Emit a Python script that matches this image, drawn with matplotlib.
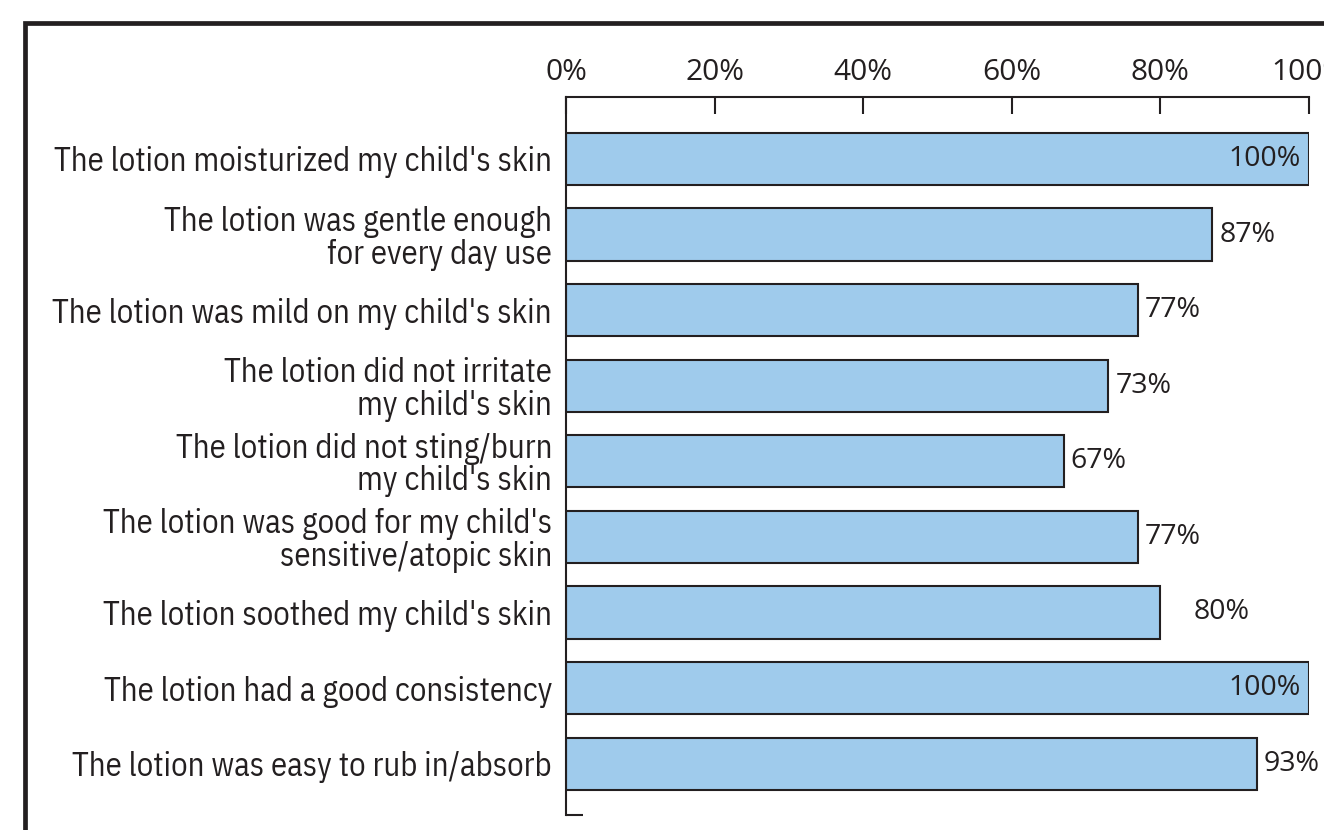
import matplotlib
matplotlib.use("Agg")
import matplotlib.pyplot as plt
from matplotlib.patches import Rectangle

categories = [
    "The lotion moisturized my child's skin",
    "The lotion was gentle enough\nfor every day use",
    "The lotion was mild on my child's skin",
    "The lotion did not irritate\nmy child's skin",
    "The lotion did not sting/burn\nmy child's skin",
    "The lotion was good for my child's\nsensitive/atopic skin",
    "The lotion soothed my child's skin",
    "The lotion had a good consistency",
    "The lotion was easy to rub in/absorb",
]
values = [100, 87, 77, 73, 67, 77, 80, 100, 93]
xticks = [0, 20, 40, 60, 80, 100]
xticklabels = ["0%", "20%", "40%", "60%", "80%", "100%"]

TXT = "#231f20"
BAR = "#9fcbec"
cat_font = ["IBM Plex Sans Condensed", "DejaVu Sans"]
num_font = ["Open Sans", "DejaVu Sans"]

fig = plt.figure(figsize=(13.24, 8.30), dpi=100)
fig.patch.set_facecolor("white")

# outer frame (extends beyond right and bottom edges)
fig.add_artist(Rectangle((25 / 1324, -0.2), 1.5, 1.2 - 23.5 / 830,
                         transform=fig.transFigure, fill=False,
                         edgecolor=TXT, linewidth=3.4, zorder=0))

ax = fig.add_axes([566 / 1324, 1 - 815 / 830, (1309 - 566) / 1324, (815 - 97) / 830])
ypos = list(range(len(categories)))
ax.barh(ypos, values, height=0.69, color=BAR, edgecolor=TXT, linewidth=1.5, zorder=2)

ax.set_xlim(0, 100)
ax.set_ylim(len(categories) - 1 + 0.68, -0.82)

ax.xaxis.tick_top()
ax.set_xticks(xticks)
ax.set_xticklabels(xticklabels, fontfamily=num_font, fontsize=21.5, color=TXT)
ax.tick_params(axis="x", direction="in", length=12, width=1.5, color=TXT, pad=7)

ax.set_yticks(ypos)
ax.set_yticklabels(categories, fontfamily=cat_font, fontsize=23.5, color=TXT,
                   linespacing=1.02, ha="right")
ax.tick_params(axis="y", length=0, pad=10)
ax.set_yticks([len(categories) - 1 + 0.68], minor=True)
ax.tick_params(axis="y", which="minor", direction="in", length=12, width=1.5, color=TXT)

for s in ["right", "bottom"]:
    ax.spines[s].set_visible(False)
for s in ["top", "left"]:
    ax.spines[s].set_linewidth(1.5)
    ax.spines[s].set_color(TXT)

for y, v in zip(ypos, values):
    label = f"{v}%"
    if v >= 100:
        ax.annotate(label, (v, y), xytext=(-6, 0), textcoords="offset points",
                    ha="right", va="center", fontfamily=num_font, fontsize=20.5, color=TXT)
    else:
        off = 24 if v == 80 else 5
        ax.annotate(label, (v, y), xytext=(off, 0), textcoords="offset points",
                    ha="left", va="center", fontfamily=num_font, fontsize=20.5, color=TXT)

fig.savefig("out.png", dpi=100)
